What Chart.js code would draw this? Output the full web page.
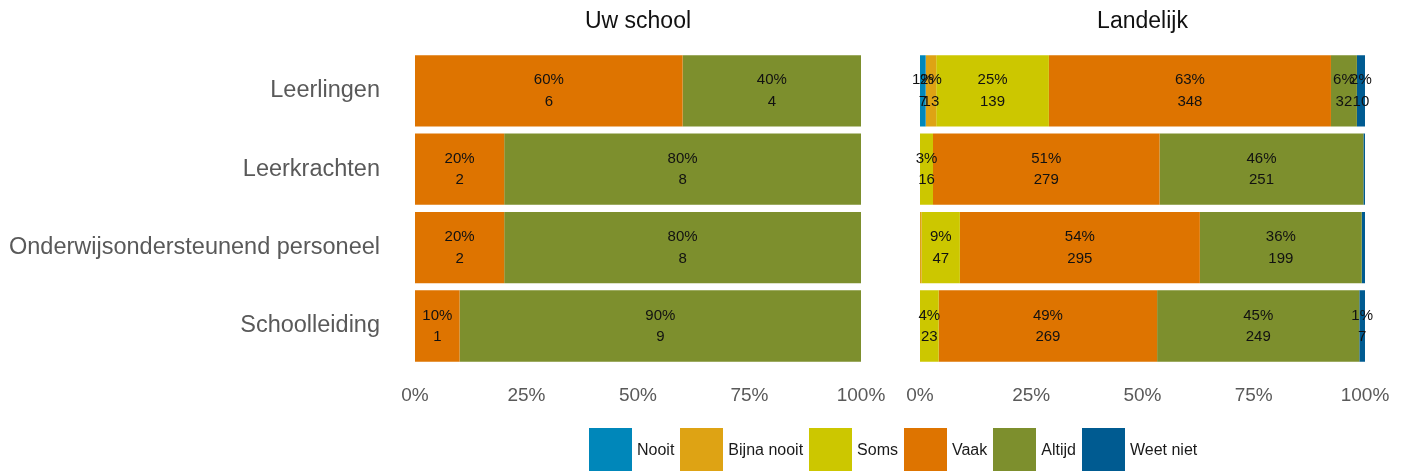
<!DOCTYPE html>
<html>
<head>
<meta charset="utf-8">
<script src="https://cdn.jsdelivr.net/npm/chart.js@4/dist/chart.umd.min.js"></script>
<style>
  body { margin: 0; background: #fff; font-family: "Liberation Sans", Arial, sans-serif; }
  #wrap { position: relative; width: 1402px; height: 471px; overflow: hidden; }
  .box { position: absolute; top: 0; height: 432px; }
  #legend { position: absolute; left: 589px; top: 428px; display: flex; align-items: center; }
  #legend .item { display: flex; align-items: center; margin-right: 6px; }
  #legend .sw { width: 43px; height: 43px; }
  #legend .lbl { margin-left: 5px; font-size: 16px; color: #1a1a1a; }
</style>
</head>
<body>
<div id="wrap">
  <div class="box" style="left:0;width:890px"><canvas id="school"></canvas></div>
  <div class="box" style="left:890px;width:512px"><canvas id="land"></canvas></div>
  <div id="legend"></div>
</div>
<script>
  const groups = ["Leerlingen", "Leerkrachten", "Onderwijsondersteunend personeel", "Schoolleiding"];
  const answers = ["Nooit", "Bijna nooit", "Soms", "Vaak", "Altijd", "Weet niet"];
  const answerColors = ["#0087BA", "#DEA314", "#CCC700", "#DE7400", "#7D8F2D", "#005B91"];
  const xTicks = [0, 25, 50, 75, 100];

  // counts per answer, one value per group
  const schoolCounts = [
    [0, 0, 0, 0],   // Nooit
    [0, 0, 0, 0],   // Bijna nooit
    [0, 0, 0, 0],   // Soms
    [6, 2, 2, 1],   // Vaak
    [4, 8, 8, 9],   // Altijd
    [0, 0, 0, 0],   // Weet niet
  ];
  const landCounts = [
    [7, 0, 0, 0],
    [13, 0, 2, 0],
    [139, 16, 47, 23],
    [348, 279, 295, 269],
    [32, 251, 199, 249],
    [10, 2, 4, 7],
  ];

  const font = '"Liberation Sans", Arial, sans-serif';

  function toPct(counts) {
    const totals = groups.map((g, i) => counts.reduce((s, row) => s + row[i], 0));
    return counts.map(row => row.map((v, i) => (totals[i] ? (v / totals[i]) * 100 : 0)));
  }

  const segmentLabels = {
    id: "segmentLabels",
    afterDatasetsDraw(chart) {
      const ctx = chart.ctx;
      ctx.save();
      ctx.font = "15px " + font;
      ctx.fillStyle = "#111";
      ctx.textAlign = "center";
      ctx.textBaseline = "middle";
      chart.data.datasets.forEach((ds, di) => {
        const meta = chart.getDatasetMeta(di);
        meta.data.forEach((bar, i) => {
          const pct = ds.data[i];
          if (pct < 1) return;
          const cx = (bar.x + bar.base) / 2;
          ctx.fillText(Math.round(pct) + "%", cx, bar.y - 10.5);
          ctx.fillText(String(ds.counts[i]), cx, bar.y + 11);
        });
      });
      ctx.restore();
    },
  };

  function makeChart(id, title, counts, showCats, padding) {
    const pct = toPct(counts);
    return new Chart(document.getElementById(id), {
      type: "bar",
      data: {
        labels: groups,
        datasets: answers.map((a, k) => ({
          label: a,
          data: pct[k],
          counts: counts[k],
          backgroundColor: answerColors[k],
          borderWidth: 0,
          categoryPercentage: 1,
          barPercentage: 0.91,
        })),
      },
      options: {
        indexAxis: "y",
        responsive: true,
        maintainAspectRatio: false,
        animation: false,
        layout: { padding },
        plugins: {
          legend: { display: false },
          tooltip: { enabled: false },
          title: {
            display: true,
            text: title,
            fullSize: false,
            color: "#111",
            font: { family: font, size: 23, weight: "normal" },
            padding: { top: 8, bottom: 16 },
          },
        },
        scales: {
          x: {
            stacked: true,
            min: 0,
            max: 100,
            grid: { display: false, drawTicks: false },
            border: { display: false },
            afterBuildTicks: s => { s.ticks = xTicks.map(v => ({ value: v })); },
            afterFit: s => { s.paddingLeft = 0; s.paddingRight = 0; },
            ticks: {
              color: "#595959",
              padding: 19,
              font: { family: font, size: 19 },
              callback: v => v + "%",
            },
          },
          y: {
            stacked: true,
            display: showCats,
            grid: { display: false, drawTicks: false },
            border: { display: false },
            afterFit: s => { if (showCats) s.width = 415; },
            ticks: {
              color: "#595959",
              padding: 35,
              font: { family: font, size: 23.5 },
            },
          },
        },
      },
      plugins: [segmentLabels],
    });
  }

  makeChart("school", "Uw school", schoolCounts, true, { top: 0, right: 29, bottom: 6, left: 0 });
  makeChart("land", "Landelijk", landCounts, false, { top: 0, right: 37, bottom: 6, left: 30 });

  const legend = document.getElementById("legend");
  answers.forEach((a, k) => {
    const item = document.createElement("div");
    item.className = "item";
    item.innerHTML = '<div class="sw" style="background:' + answerColors[k] + '"></div><span class="lbl">' + a + "</span>";
    legend.appendChild(item);
  });
</script>
</body>
</html>
